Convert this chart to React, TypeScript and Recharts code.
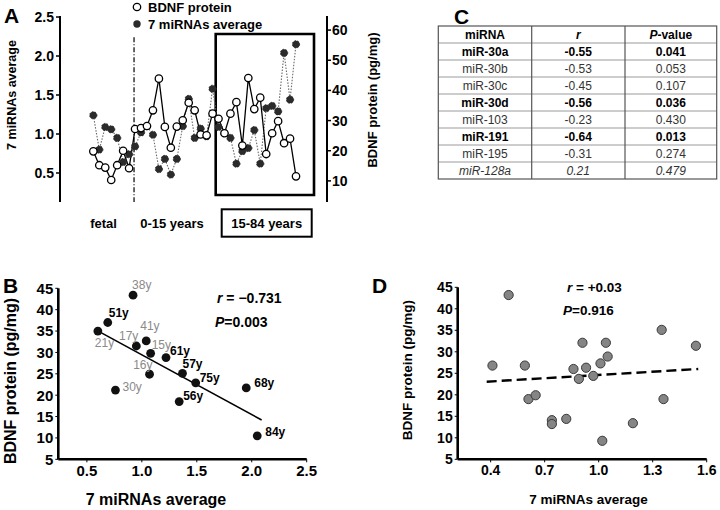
import React from 'react';
import {
  ComposedChart,
  Line,
  XAxis,
  YAxis,
  ReferenceLine,
  ReferenceArea,
  ScatterChart,
  Scatter,
} from 'recharts';

const FONT = '"Liberation Sans", Arial, Helvetica, sans-serif';

// ---------- Panel A data ----------
const groupNames = ['fetal', '0-15 years', '15-84 years'];
const bdnfA = [
  19.8, 15.2, 14.4, 10.3, 15.2, 20.0, 14.2,
  27.2, 27.5, 28.2, 33.4, 43.9, 27.9, 21.0, 28.0, 30.1, 35.9, 33.4, 25.4, 25.1, 32.3,
  30.6, 25.8, 32.3, 36.1, 21.7, 44.1, 33.8, 37.6, 18.9, 25.8, 29.8, 22.5, 24.0, 11.5,
];
const mirnaA = [
  1.24, 0.8, 1.09, 1.06, 0.95, 0.64, 0.74,
  0.84, 1.02, 1.1, 0.99, 0.55, 0.68, 0.48, 0.68, 1.1, 1.45, 0.95, 1.07, 0.97, 1.58,
  1.09, 1.01, 0.95, 0.62, 0.78, 0.82, 1.05, 0.62, 1.33, 1.36, 1.29, 2.04, 1.44, 2.15,
];
const leftTicksA = [0.5, 1.0, 1.5, 2.0, 2.5];
const rightTicksA = [10, 20, 30, 40, 50, 60];

// ---------- Panel B data ----------
const agesB = [38, 51, 21, 17, 41, 15, 61, 16, 57, 75, 30, 56, 68, 84];
const mirnaB = [0.92, 0.69, 0.6, 0.95, 1.04, 1.08, 1.22, 1.07, 1.37, 1.49, 0.76, 1.34, 1.95, 2.05];
const bdnfB = [43.4, 37.0, 35.0, 31.5, 32.7, 29.8, 28.8, 24.9, 25.1, 22.9, 21.2, 18.5, 21.7, 10.5];
const fitB = [
  { x: 0.574, y: 35.4 },
  { x: 2.09, y: 14.2 },
];
const statsB = { r: '−0.731', p: '0.003' };
const xTicksB = [0.5, 1.0, 1.5, 2.0, 2.5];
const yTicksBD = [5, 10, 15, 20, 25, 30, 35, 40, 45];

// label placement for ages in panel B (style, not data)
const labelPlaceB = [
  { dx: -1, dy: -10, a: 'start' },
  { dx: 1, dy: -10, a: 'start' },
  { dx: -3, dy: 12, a: 'start' },
  { dx: 2, dy: -10, a: 'end' },
  { dx: -6, dy: -15, a: 'start' },
  { dx: 1, dy: -8, a: 'start' },
  { dx: 4, dy: -7, a: 'start' },
  { dx: 3, dy: -9, a: 'end' },
  { dx: 0, dy: -9, a: 'start' },
  { dx: 4, dy: -5, a: 'start' },
  { dx: 7, dy: -3, a: 'start' },
  { dx: 4, dy: -6, a: 'start' },
  { dx: 8, dy: -5, a: 'start' },
  { dx: 8, dy: -4, a: 'start' },
];

// ---------- Panel C data ----------
const mirnaNames = ['miR-30a', 'miR-30b', 'miR-30c', 'miR-30d', 'miR-103', 'miR-191', 'miR-195', 'miR-128a'];
const rValues = ['-0.55', '-0.53', '-0.45', '-0.56', '-0.23', '-0.64', '-0.31', '0.21'];
const pValues = ['0.041', '0.053', '0.107', '0.036', '0.430', '0.013', '0.274', '0.479'];

// ---------- Panel D data ----------
const mirnaD = [0.41, 0.5, 0.59, 0.61, 0.65, 0.74, 0.74, 0.82, 0.86, 0.89, 0.91, 0.93, 0.97, 1.01, 1.02, 1.04, 1.05, 1.19, 1.35, 1.36, 1.54];
const bdnfD = [26.8, 43.2, 26.8, 19.0, 19.9, 14.1, 13.2, 14.4, 26.0, 23.7, 32.1, 26.3, 24.4, 27.3, 9.3, 32.1, 28.9, 13.4, 35.1, 19.0, 31.4];
const fitD = [
  { x: 0.378, y: 23.05 },
  { x: 1.553, y: 26.0 },
];
const statsD = { r: '+0.03', p: '0.916' };
const xTicksD = [0.4, 0.7, 1.0, 1.3, 1.6];

// ---------- built tables ----------
const dataA = bdnfA.map((b, i) => ({ i, bdnf: b, mirna: mirnaA[i] }));
const dataB = agesB.map((age, k) => ({ k, age, x: mirnaB[k], y: bdnfB[k] }));
const dataD = mirnaD.map((x, k) => ({ x, y: bdnfD[k] }));

const tickA = { fill: '#000', fontSize: 14, fontWeight: 700, fontFamily: FONT };
const tickBD = { fill: '#000', fontSize: 15, fontWeight: 700, fontFamily: FONT };

const BPoint = (props: any) => {
  const { cx, cy, payload } = props;
  const pl = labelPlaceB[payload.k];
  const young = payload.age < 50;
  return (
    <g>
      <circle cx={cx} cy={cy} r={4.4} fill="#111" />
      <text
        x={cx + pl.dx}
        y={cy + pl.dy}
        textAnchor={pl.a}
        dominantBaseline="central"
        fill={young ? '#8a8a8a' : '#000'}
        fontSize={12}
        fontWeight={young ? 400 : 700}
        fontFamily={FONT}
      >
        {payload.age}y
      </text>
    </g>
  );
};

const DPoint = (props: any) => {
  const { cx, cy } = props;
  return <circle cx={cx} cy={cy} r={4.6} fill="#858585" stroke="#3a3a3a" strokeWidth={1} />;
};

const txt = { fontFamily: FONT, fontWeight: 700, fill: '#000' } as const;

function Table() {
  const x0 = 438.3;
  const cols = [438.3, 531.7, 625, 716.7];
  const top = 26;
  const rh = 17;
  const n = mirnaNames.length + 1;
  const centers = [485, 578.3, 670.8];
  return (
    <g fontFamily={FONT} fontSize={12}>
      {Array.from({ length: n - 1 }, (_, k) => (
        <line key={'h' + k} x1={x0} x2={cols[3]} y1={top + rh * (k + 1)} y2={top + rh * (k + 1)} stroke="#9a9a9a" strokeWidth={1} />
      ))}
      <rect x={x0} y={top} width={cols[3] - x0} height={rh * n} fill="none" stroke="#555" strokeWidth={1.2} />
      <line x1={cols[1]} x2={cols[1]} y1={top} y2={top + rh * n} stroke="#555" strokeWidth={1.2} />
      <line x1={cols[2]} x2={cols[2]} y1={top} y2={top + rh * n} stroke="#555" strokeWidth={1.2} />
      <text x={centers[0]} y={top + rh / 2} textAnchor="middle" dominantBaseline="central" fontWeight={700}>miRNA</text>
      <text x={centers[1]} y={top + rh / 2} textAnchor="middle" dominantBaseline="central" fontWeight={700} fontStyle="italic">r</text>
      <text x={centers[2]} y={top + rh / 2} textAnchor="middle" dominantBaseline="central" fontWeight={700}>
        <tspan fontStyle="italic">P</tspan>-value
      </text>
      {mirnaNames.map((name, k) => {
        const y = top + rh * (k + 1) + rh / 2;
        const sig = parseFloat(pValues[k]) < 0.05;
        const pos = parseFloat(rValues[k]) > 0;
        const fw = sig ? 700 : 400;
        const fs = pos ? 'italic' : 'normal';
        const fill = sig ? '#000' : '#333';
        return (
          <g key={name} fontWeight={fw} fontStyle={fs} fill={fill}>
            <text x={centers[0]} y={y} textAnchor="middle" dominantBaseline="central">{name}</text>
            <text x={centers[1]} y={y} textAnchor="middle" dominantBaseline="central">{rValues[k]}</text>
            <text x={centers[2]} y={y} textAnchor="middle" dominantBaseline="central">{pValues[k]}</text>
          </g>
        );
      })}
    </g>
  );
}

export default function App() {
  return (
    <div style={{ position: 'absolute', left: 0, top: 0, width: 720, height: 510, background: '#fff', overflow: 'hidden' }}>
      {/* Panel A */}
      <div style={{ position: 'absolute', left: 0, top: 0 }}>
        <ComposedChart width={380} height={250} data={dataA} margin={{ top: 16, right: 13, bottom: 48, left: 20 }}>
          <XAxis
            type="number"
            dataKey="i"
            domain={[-5.59, 39.2]}
            allowDataOverflow
            tick={false}
            tickLine={false}
            height={0}
            axisLine={{ stroke: '#000', strokeWidth: 2 }}
          />
          <YAxis
            yAxisId="l"
            domain={[0.128, 2.513]}
            allowDataOverflow
            ticks={leftTicksA}
            interval={0}
            tickFormatter={(v: number) => v.toFixed(1)}
            width={40}
            tickSize={4}
            tickMargin={2}
            axisLine={{ stroke: '#000', strokeWidth: 2 }}
            tickLine={{ stroke: '#000', strokeWidth: 1.5 }}
            tick={tickA}
          />
          <YAxis
            yAxisId="r"
            orientation="right"
            domain={[3, 64.67]}
            allowDataOverflow
            ticks={rightTicksA}
            interval={0}
            width={40}
            tickSize={4}
            tickMargin={1}
            axisLine={{ stroke: '#000', strokeWidth: 2 }}
            tickLine={{ stroke: '#000', strokeWidth: 1.5 }}
            tick={tickA}
          />
          <ReferenceArea
            yAxisId="l"
            x1={20.53}
            x2={37.02}
            y1={0.218}
            y2={2.282}
            fill="none"
            fillOpacity={0}
            stroke="#000"
            strokeWidth={2.6}
            ifOverflow="visible"
          />
          <ReferenceLine
            yAxisId="l"
            segment={[
              { x: 6.83, y: 2.24 },
              { x: 6.83, y: 0.128 },
            ]}
            stroke="#000"
            strokeWidth={1.2}
            strokeDasharray="5 2 1 2"
            ifOverflow="visible"
          />
          <Line
            yAxisId="l"
            dataKey="mirna"
            stroke="#6a6a6a"
            strokeWidth={1.1}
            strokeDasharray="1.5 1.5"
            dot={{ r: 3.6, fill: '#2b2b2b', stroke: '#2b2b2b', strokeWidth: 1 }}
            activeDot={false}
            isAnimationActive={false}
          />
          <Line
            yAxisId="r"
            dataKey="bdnf"
            stroke="#000"
            strokeWidth={1.3}
            dot={{ r: 3.7, fill: '#fff', stroke: '#000', strokeWidth: 1.3 }}
            activeDot={false}
            isAnimationActive={false}
          />
        </ComposedChart>
      </div>

      {/* Panel B */}
      <div style={{ position: 'absolute', left: 0, top: 270 }}>
        <ScatterChart width={360} height={240} margin={{ top: 18.3, right: 53.3, bottom: 20.7, left: 18.3 }}>
          <XAxis
            type="number"
            dataKey="x"
            domain={[0.24, 2.5]}
            ticks={xTicksB}
            interval={0}
            tickFormatter={(v: number) => v.toFixed(1)}
            height={30}
            tickSize={3}
            tickMargin={3}
            axisLine={{ stroke: '#000', strokeWidth: 2.6 }}
            tickLine={{ stroke: '#000' }}
            tick={tickBD}
          />
          <YAxis
            type="number"
            dataKey="y"
            domain={[5, 45]}
            ticks={yTicksBD}
            interval={0}
            width={40}
            tickSize={3}
            tickMargin={2}
            axisLine={{ stroke: '#000', strokeWidth: 2.6 }}
            tickLine={{ stroke: '#000' }}
            tick={tickBD}
          />
          <ReferenceLine segment={fitB} stroke="#000" strokeWidth={1.6} ifOverflow="visible" />
          <Scatter data={dataB} shape={BPoint} isAnimationActive={false} />
        </ScatterChart>
      </div>

      {/* Panel D */}
      <div style={{ position: 'absolute', left: 360, top: 270 }}>
        <ScatterChart width={360} height={240} margin={{ top: 17.3, right: 13.3, bottom: 20.7, left: 57.7 }}>
          <XAxis
            type="number"
            dataKey="x"
            domain={[0.217, 1.6]}
            ticks={xTicksD}
            interval={0}
            tickFormatter={(v: number) => v.toFixed(1)}
            height={30}
            tickSize={3}
            tickMargin={3}
            axisLine={{ stroke: '#000', strokeWidth: 2.6 }}
            tickLine={{ stroke: '#000' }}
            tick={{ ...tickBD, fontSize: 14 }}
          />
          <YAxis
            type="number"
            dataKey="y"
            domain={[5, 45]}
            ticks={yTicksBD}
            interval={0}
            width={40}
            tickSize={3}
            tickMargin={2}
            axisLine={{ stroke: '#000', strokeWidth: 2.6 }}
            tickLine={{ stroke: '#000' }}
            tick={{ ...tickBD, fontSize: 14 }}
          />
          <ReferenceLine segment={fitD} stroke="#000" strokeWidth={2.4} strokeDasharray="10 5" ifOverflow="visible" />
          <Scatter data={dataD} shape={DPoint} isAnimationActive={false} />
        </ScatterChart>
      </div>

      {/* Text overlay */}
      <svg width={720} height={510} style={{ position: 'absolute', left: 0, top: 0, pointerEvents: 'none' }}>
        {/* Panel letters */}
        <text x={4} y={23} {...txt} fontSize={21}>A</text>
        <text x={3} y={293} {...txt} fontSize={21}>B</text>
        <text x={454} y={24} {...txt} fontSize={21}>C</text>
        <text x={372} y={293} {...txt} fontSize={21}>D</text>

        {/* Panel A legend */}
        <circle cx={137} cy={7} r={3.7} fill="#fff" stroke="#000" strokeWidth={1.3} />
        <text x={148} y={7} {...txt} fontSize={13} dominantBaseline="central">BDNF protein</text>
        <circle cx={137} cy={24} r={3.7} fill="#2b2b2b" />
        <text x={148} y={24} {...txt} fontSize={13} dominantBaseline="central">7 miRNAs average</text>

        {/* Panel A axis titles */}
        <text x={12} y={95} {...txt} fontSize={12.5} textAnchor="middle" dominantBaseline="central" transform="rotate(-90 12 95)">
          7 miRNAs average
        </text>
        <text x={372} y={100} {...txt} fontSize={13} textAnchor="middle" dominantBaseline="central" transform="rotate(-90 372 100)">
          BDNF protein (pg/mg)
        </text>

        {/* Panel A group labels */}
        <text x={103.5} y={223} {...txt} fontSize={13} textAnchor="middle" dominantBaseline="central">{groupNames[0]}</text>
        <text x={172} y={223} {...txt} fontSize={13} textAnchor="middle" dominantBaseline="central">{groupNames[1]}</text>
        <rect x={221.7} y={209.3} width={90} height={27.4} fill="none" stroke="#000" strokeWidth={2} />
        <text x={266.7} y={223} {...txt} fontSize={13} textAnchor="middle" dominantBaseline="central">{groupNames[2]}</text>

        {/* Panel B titles and stats */}
        <text x={156} y={499} {...txt} fontSize={16} textAnchor="middle" dominantBaseline="central">7 miRNAs average</text>
        <text x={10} y={381} {...txt} fontSize={16} textAnchor="middle" dominantBaseline="central" transform="rotate(-90 10 381)">
          BDNF protein (pg/mg)
        </text>
        <text x={217} y={298} {...txt} fontSize={14} dominantBaseline="central">
          <tspan fontStyle="italic">r</tspan> = {statsB.r}
        </text>
        <text x={215} y={322} {...txt} fontSize={14} dominantBaseline="central">
          <tspan fontStyle="italic">P</tspan>={statsB.p}
        </text>

        {/* Panel C table */}
        <Table />

        {/* Panel D titles and stats */}
        <text x={588.5} y={499.5} {...txt} fontSize={13.5} textAnchor="middle" dominantBaseline="central">7 miRNAs average</text>
        <text x={407.5} y={370} {...txt} fontSize={13.5} textAnchor="middle" dominantBaseline="central" transform="rotate(-90 407.5 370)">
          BDNF protein (pg/mg)
        </text>
        <text x={567} y={287} {...txt} fontSize={13.5} dominantBaseline="central">
          <tspan fontStyle="italic">r</tspan> = {statsD.r}
        </text>
        <text x={563} y={310} {...txt} fontSize={13.5} dominantBaseline="central">
          <tspan fontStyle="italic">P</tspan>={statsD.p}
        </text>
      </svg>
    </div>
  );
}
